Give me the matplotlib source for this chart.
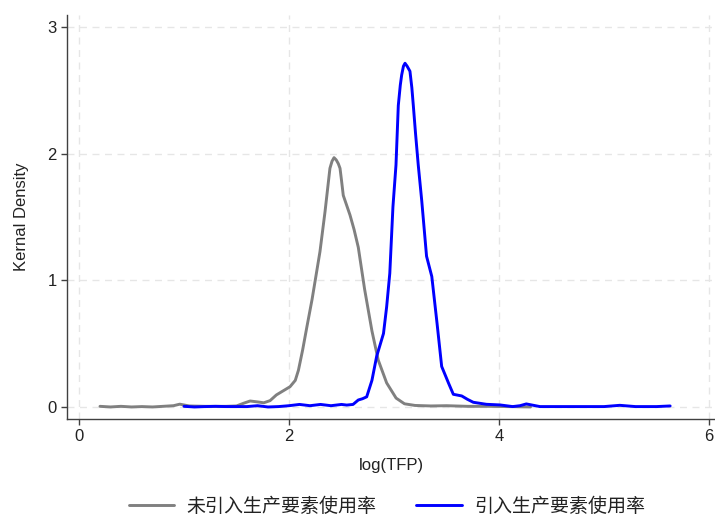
import matplotlib
matplotlib.use("Agg")
import matplotlib.pyplot as plt

# Gray: 未引入生产要素使用率
gray_x = [0.2, 0.3, 0.4, 0.5, 0.6, 0.7, 0.8, 0.9, 0.96, 1.05, 1.2, 1.4, 1.5, 1.57, 1.63, 1.7, 1.76, 1.82, 1.88,
          1.95, 2.01, 2.06, 2.09, 2.13, 2.17, 2.22, 2.26, 2.295, 2.343, 2.39, 2.41, 2.429, 2.45, 2.47, 2.486,
          2.50, 2.517, 2.55, 2.581, 2.62, 2.66, 2.72, 2.79, 2.85, 2.93, 3.02, 3.10, 3.2, 3.35, 3.5, 3.7, 3.9,
          4.1, 4.3]
gray_y = [0.005, 0.0, 0.005, 0.0, 0.003, 0.0, 0.005, 0.01, 0.022, 0.008, 0.005, 0.005, 0.008, 0.03, 0.047,
          0.04, 0.033, 0.05, 0.095, 0.13, 0.16, 0.21, 0.29, 0.45, 0.63, 0.85, 1.05, 1.226, 1.54, 1.884, 1.94,
          1.968, 1.95, 1.92, 1.884, 1.79, 1.67, 1.59, 1.515, 1.40, 1.26, 0.93, 0.60, 0.37, 0.19, 0.07, 0.025,
          0.012, 0.008, 0.01, 0.005, 0.005, 0.003, 0.0]

# Blue: 引入生产要素使用率
blue_x = [1.0, 1.1, 1.2, 1.3, 1.4, 1.5, 1.6, 1.7, 1.8, 1.9, 2.0, 2.1, 2.2, 2.3, 2.4, 2.5, 2.55, 2.61, 2.66,
          2.70, 2.74, 2.79, 2.835, 2.90, 2.93, 2.96, 2.99, 3.019, 3.041, 3.06, 3.073, 3.09, 3.105, 3.125, 3.152,
          3.17, 3.184, 3.205, 3.231, 3.264, 3.31, 3.36, 3.41, 3.454, 3.52, 3.565, 3.645, 3.70, 3.755, 3.88,
          4.01, 4.13, 4.2, 4.26, 4.39, 4.6, 4.8, 5.0, 5.15, 5.3, 5.5, 5.63]
blue_y = [0.005, 0.0, 0.003, 0.005, 0.003, 0.003, 0.003, 0.01, 0.0, 0.003, 0.01, 0.02, 0.01, 0.02, 0.01, 0.02,
          0.015, 0.02, 0.055, 0.065, 0.08, 0.21, 0.40, 0.58, 0.79, 1.055, 1.58, 1.91, 2.38, 2.54, 2.62, 2.69,
          2.713, 2.69, 2.65, 2.52, 2.38, 2.16, 1.91, 1.63, 1.19, 1.03, 0.66, 0.32, 0.187, 0.10, 0.087, 0.06,
          0.037, 0.021, 0.016, 0.003, 0.01, 0.024, 0.003, 0.003, 0.003, 0.003, 0.013, 0.003, 0.003, 0.008]

series_labels = ["未引入生产要素使用率", "引入生产要素使用率"]
x_ticks = [0, 2, 4, 6]
y_ticks = [0, 1, 2, 3]

plt.rcParams['font.family'] = ['Liberation Sans', 'Noto Sans CJK SC', 'DejaVu Sans']
plt.rcParams['font.size'] = 12

fig = plt.figure(figsize=(7.15, 5.18), dpi=100)
ax = fig.add_axes([67/715, 99/518, 1 - 67/715, (419 - 15)/518])

ax.plot(gray_x, gray_y, color='#808080', lw=2.1, label=series_labels[0],
        solid_joinstyle='round', solid_capstyle='round')
ax.plot(blue_x, blue_y, color='#0000ff', lw=2.1, label=series_labels[1],
        solid_joinstyle='round', solid_capstyle='round')

ax.set_xlim(-0.114, 6.057)
ax.set_ylim(-0.095, 3.094)
ax.set_xticks(x_ticks)
ax.set_yticks(y_ticks)
ax.grid(True, color='#e6e6e6', linestyle=(0, (5, 4)), lw=1.0)
ax.set_axisbelow(True)

for s in ['top', 'right']:
    ax.spines[s].set_visible(False)
for s in ['left', 'bottom']:
    ax.spines[s].set_color('#404040')
    ax.spines[s].set_linewidth(1.0)
ax.tick_params(direction='out', length=4, width=1, color='#404040', labelsize=12, labelcolor='#222222')

ax.set_xlabel('log(TFP)', fontsize=12, color='#222222', labelpad=10)
ax.set_ylabel('Kernal Density', fontsize=12, color='#222222', labelpad=13)

leg = fig.legend(loc='center', bbox_to_anchor=(0.541, 0.022), ncol=2, frameon=False,
                 handlelength=2.4, handletextpad=0.63, columnspacing=2.1, fontsize=13.7)
for t in leg.get_texts():
    t.set_color('#222222')

fig.savefig('out.png', dpi=100)
